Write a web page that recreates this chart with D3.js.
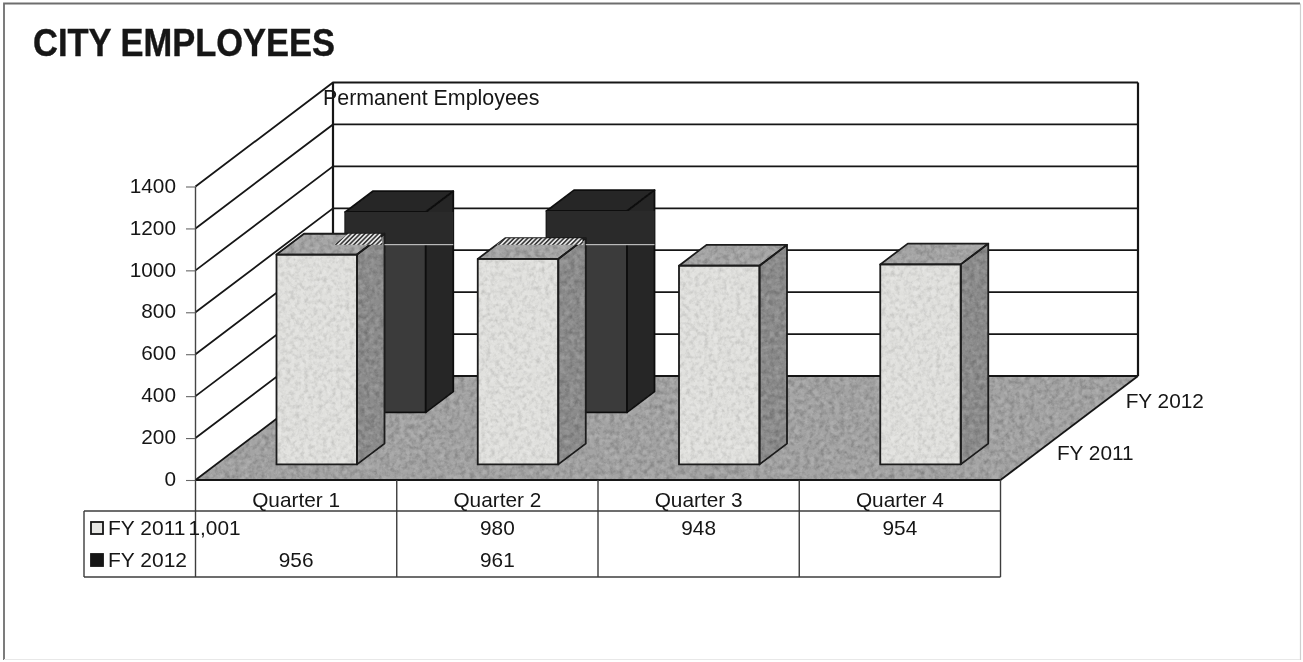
<!DOCTYPE html>
<html>
<head>
<meta charset="utf-8">
<script src="https://cdn.jsdelivr.net/npm/d3@7/dist/d3.min.js"></script>
<style>
html,body{margin:0;padding:0;background:#fff;}
svg{display:block;}
text{font-family:"Liberation Sans",Arial,sans-serif;fill:#151515;}
</style>
</head>
<body>
<div id="chart"></div>
<script>
const titleText = "CITY EMPLOYEES";
const subtitleText = "Permanent Employees";
const categories = ["Quarter 1", "Quarter 2", "Quarter 3", "Quarter 4"];
const seriesNames = ["FY 2011", "FY 2012"];
const fy2011 = [1001, 980, 948, 954];
const fy2012 = [956, 961, null, null];
const yTicks = [0, 200, 400, 600, 800, 1000, 1200, 1400];
// scan artefact on the FY 2012 bars: a flat band that ends at this value
const bandBottomValue = 800;
// hatched scan artefact on the FY 2011 bar tops: where it starts along the top (0..1)
const hatchStart = [0.55, 0];

const W = 1303, H = 662;
const svg = d3.select("#chart").append("svg").attr("width", W).attr("height", H);
const defs = svg.append("defs");

const noise = (id, freq, seed, slope, icpt, lightSlope, lightIcpt) => {
  const f = defs.append("filter").attr("id", id).attr("x", 0).attr("y", 0).attr("width", 1).attr("height", 1)
    .attr("color-interpolation-filters", "sRGB");
  f.append("feTurbulence").attr("type", "fractalNoise").attr("baseFrequency", freq).attr("numOctaves", 3).attr("seed", seed).attr("result", "n0");
  f.append("feGaussianBlur").attr("in", "n0").attr("stdDeviation", 0.6).attr("result", "n");
  f.append("feColorMatrix").attr("in", "n").attr("type", "matrix")
    .attr("values", `0 0 0 0 0.1  0 0 0 0 0.1  0 0 0 0 0.1  ${slope} 0 0 0 ${icpt}`).attr("result", "dark");
  f.append("feColorMatrix").attr("in", "n").attr("type", "matrix")
    .attr("values", `0 0 0 0 1  0 0 0 0 1  0 0 0 0 1  0 ${lightSlope} 0 0 ${lightIcpt}`).attr("result", "light");
  f.append("feComposite").attr("in", "dark").attr("in2", "SourceGraphic").attr("operator", "in").attr("result", "d2");
  f.append("feComposite").attr("in", "light").attr("in2", "SourceGraphic").attr("operator", "in").attr("result", "l2");
  const m = f.append("feMerge");
  m.append("feMergeNode").attr("in", "SourceGraphic");
  m.append("feMergeNode").attr("in", "d2");
  m.append("feMergeNode").attr("in", "l2");
};
noise("mottle", 0.2, 4, 0.5, -0.2, 0.35, -0.14);
noise("mottleLight", 0.22, 9, 0.3, -0.125, 0.5, -0.18);

const soft = defs.append("filter").attr("id", "soft").attr("x", 0).attr("y", 0).attr("width", 1).attr("height", 1);
soft.append("feGaussianBlur").attr("stdDeviation", 0.42);

const hatch = defs.append("pattern").attr("id", "hatch").attr("width", 3.2).attr("height", 3.2)
  .attr("patternUnits", "userSpaceOnUse").attr("patternTransform", "rotate(-45)");
hatch.append("rect").attr("width", 3.2).attr("height", 3.2).attr("fill", "#e8e8e8");
hatch.append("rect").attr("width", 3.2).attr("height", 1.6).attr("fill", "#3a3a3a");

const root = svg.append("g").attr("filter", "url(#soft)");
root.append("rect").attr("width", W).attr("height", H).attr("fill", "#fff");

// scales of the 3-D box
const xScale = d3.scaleLinear().domain([0, 4]).range([195.5, 1000.5]);
const yScale = d3.scaleLinear().domain([0, 1400]).range([480, 186.5]);
const zDx = d3.scaleLinear().domain([0, 2]).range([0, 137.5]);
const zDy = d3.scaleLinear().domain([0, 2]).range([0, -104]);
const rowScale = d3.scaleOrdinal().domain(seriesNames).range([535, 567]);
const P = (x, v, z) => [xScale(x) + zDx(z), yScale(v) + zDy(z)];
const line = d3.line();
const poly = pts => line(pts) + "Z";
const INK = "#161616";

// outer frame
root.append("path").attr("d", "M4,660V3.5H1300").attr("fill", "none").attr("stroke", "#6e6e6e").attr("stroke-width", 1.8);
root.append("path").attr("d", "M1300.5,3.5V660").attr("fill", "none").attr("stroke", "#cfcfcf").attr("stroke-width", 1.2);
root.append("path").attr("d", "M4,659.5H1300").attr("fill", "none").attr("stroke", "#e8e8e8").attr("stroke-width", 1.2);

// title
root.append("text").attr("x", 33).attr("y", 55.5).attr("font-size", 38.5).attr("font-weight", "bold")
  .attr("stroke", "#151515").attr("stroke-width", 0.4)
  .attr("textLength", 302).attr("lengthAdjust", "spacingAndGlyphs").text(titleText);

// floor
root.append("path").attr("d", poly([P(0,0,0), P(4,0,0), P(4,0,2), P(0,0,2)]))
  .attr("fill", "#a4a4a4").attr("filter", "url(#mottle)");

// walls and gridlines
const gridG = root.append("g").attr("fill", "none").attr("stroke", INK).attr("stroke-width", 1.8);
yTicks.forEach(v => {
  gridG.append("path").attr("d", line([P(0,v,0), P(0,v,2), P(4,v,2)]));
});
gridG.append("path").attr("d", line([P(0,0,2), P(0,1400,2)])).attr("stroke-width", 2.2);
gridG.append("path").attr("d", line([P(4,0,2), P(4,1400,2)])).attr("stroke-width", 2.2);
gridG.append("path").attr("d", line([P(0,0,0), P(0,1400,0)])).attr("stroke", "#444").attr("stroke-width", 1.4);
gridG.append("path").attr("d", line([P(4,0,0), P(4,0,2)])).attr("stroke-width", 1.8);

// bars
const barL = i => i + 0.3, barR = i => i + 0.7;
const SERIES_Z = [0.3, 1.3], DEPTH = 0.4;

function bar(i, v, s, cols, tex) {
  const z0 = SERIES_Z[s], z1 = z0 + DEPTH, l = barL(i), r = barR(i);
  const faces = [
    { pts: [P(l,v,z0), P(r,v,z0), P(r,0,z0), P(l,0,z0)], fill: cols.front, f: tex ? "mottleLight" : null },
    { pts: [P(r,v,z0), P(r,v,z1), P(r,0,z1), P(r,0,z0)], fill: cols.side, f: tex ? "mottle" : null },
    { pts: [P(l,v,z0), P(l,v,z1), P(r,v,z1), P(r,v,z0)], fill: cols.top, f: tex ? "mottle" : null }
  ];
  const g = root.append("g");
  faces.forEach(fc => {
    const p = g.append("path").attr("d", poly(fc.pts)).attr("fill", fc.fill);
    if (fc.f) p.attr("filter", `url(#${fc.f})`);
  });
  faces.forEach(fc => {
    g.append("path").attr("d", poly(fc.pts)).attr("fill", "none").attr("stroke", cols.line).attr("stroke-width", 1.8).attr("stroke-linejoin", "round");
  });
}

const lightCols = { front: "#e0e0dd", side: "#8c8c8c", top: "#a6a6a6", line: "#1a1a1a" };
const darkCols = { front: "#3a3a3a", side: "#262626", top: "#262626", line: "#111" };

// back row: FY 2012
fy2012.forEach((v, i) => {
  if (v === null) return;
  bar(i, v, 1, darkCols, false);
  const z0 = SERIES_Z[1], z1 = z0 + DEPTH;
  root.append("path").attr("d", poly([P(barL(i), v, z0), [P(barR(i), v, z1)[0], P(barL(i), v, z0)[1]], [P(barR(i), v, z1)[0], P(barL(i), bandBottomValue, z0)[1]], P(barL(i), bandBottomValue, z0)]))
    .attr("fill", "#2b2b2b");
});

// front row: FY 2011
fy2011.forEach((v, i) => { bar(i, v, 0, lightCols, true); });

// hatched artefact and hairline where the band ends
fy2012.forEach((v, i) => {
  if (v === null) return;
  const z0 = SERIES_Z[0], z1 = z0 + DEPTH;
  const val = fy2011[i];
  const bandY = P(barL(i), bandBottomValue, SERIES_Z[1])[1];
  const back = P(barL(i), val, z1), backR = P(barR(i), val, z1), front = P(barL(i), val, z0);
  const t = (bandY - back[1]) / (front[1] - back[1]);
  const xs = back[0] + hatchStart[i] * (backR[0] - back[0]);
  root.append("path").attr("d", poly([[xs, back[1]], [backR[0] - 4, back[1]], [backR[0] - 2, bandY], [xs - t * (back[0] - front[0]), bandY]]))
    .attr("fill", "url(#hatch)");
  const bandR = P(barR(i), v, SERIES_Z[1] + DEPTH)[0];
  root.append("path").attr("d", line([[backR[0], bandY], [bandR, bandY]]))
    .attr("stroke", "#d8d8d8").attr("stroke-width", 1);
});

// value axis
const yAxis = d3.axisLeft(yScale).tickValues(yTicks).tickSize(9).tickPadding(10).tickFormat(d3.format("d"));
const axG = root.append("g").attr("transform", "translate(195,0)").call(yAxis);
axG.select(".domain").remove();
axG.selectAll("line").attr("stroke", "#666").attr("stroke-width", 1.1);
axG.selectAll("text").attr("font-size", 20.8).attr("y", -1).attr("font-family", '"Liberation Sans",Arial,sans-serif').attr("fill", "#151515");

// subtitle drawn over the wall
root.append("text").attr("x", 323).attr("y", 105).attr("font-size", 21.4).text(subtitleText);

// series axis labels
const seriesLabel = d3.scaleOrdinal().domain(seriesNames).range([0.5, 1.5]);
seriesNames.forEach(n => {
  const p = P(4, 0, seriesLabel(n));
  root.append("text").attr("x", p[0] + 22).attr("y", p[1] + 6).attr("font-size", 20.8).text(n);
});

// data table
const tbl = root.append("g").attr("fill", "none").attr("stroke", "#3c3c3c").attr("stroke-width", 1.4);
const legendLeft = 84, rowTop = 511, rowBottom = 577;
tbl.append("path").attr("d", line([[xScale(0), 480], [xScale(4), 480]])).attr("stroke", INK).attr("stroke-width", 2.2);
tbl.append("path").attr("d", line([[legendLeft, rowTop], [xScale(4), rowTop]]));
tbl.append("path").attr("d", line([[legendLeft, rowBottom], [xScale(4), rowBottom]]));
tbl.append("path").attr("d", line([[legendLeft, rowTop], [legendLeft, rowBottom]]));
d3.range(0, 5).forEach(i => {
  tbl.append("path").attr("d", line([[xScale(i), 480], [xScale(i), rowBottom]]));
});

categories.forEach((c, i) => {
  root.append("text").attr("x", xScale(i + 0.5)).attr("y", 507).attr("text-anchor", "middle").attr("font-size", 20.8).text(c);
});

const fmt = d3.format(",");
[fy2011, fy2012].forEach((vals, s) => {
  const name = seriesNames[s];
  const y = rowScale(name);
  root.append("rect").attr("x", 91).attr("y", y - 13).attr("width", 12).attr("height", 12)
    .attr("fill", s ? "#151515" : "#e6e6e3").attr("stroke", "#151515").attr("stroke-width", 1.8);
  root.append("text").attr("x", 108).attr("y", y).attr("font-size", 21).text(name);
  vals.forEach((v, i) => {
    if (v === null) return;
    const big = v >= 1000;
    root.append("text")
      .attr("x", big ? xScale(i) - 7 : xScale(i + 0.5))
      .attr("y", y)
      .attr("text-anchor", big ? "start" : "middle")
      .attr("font-size", 20.8).text(fmt(v));
  });
});
</script>
</body>
</html>
